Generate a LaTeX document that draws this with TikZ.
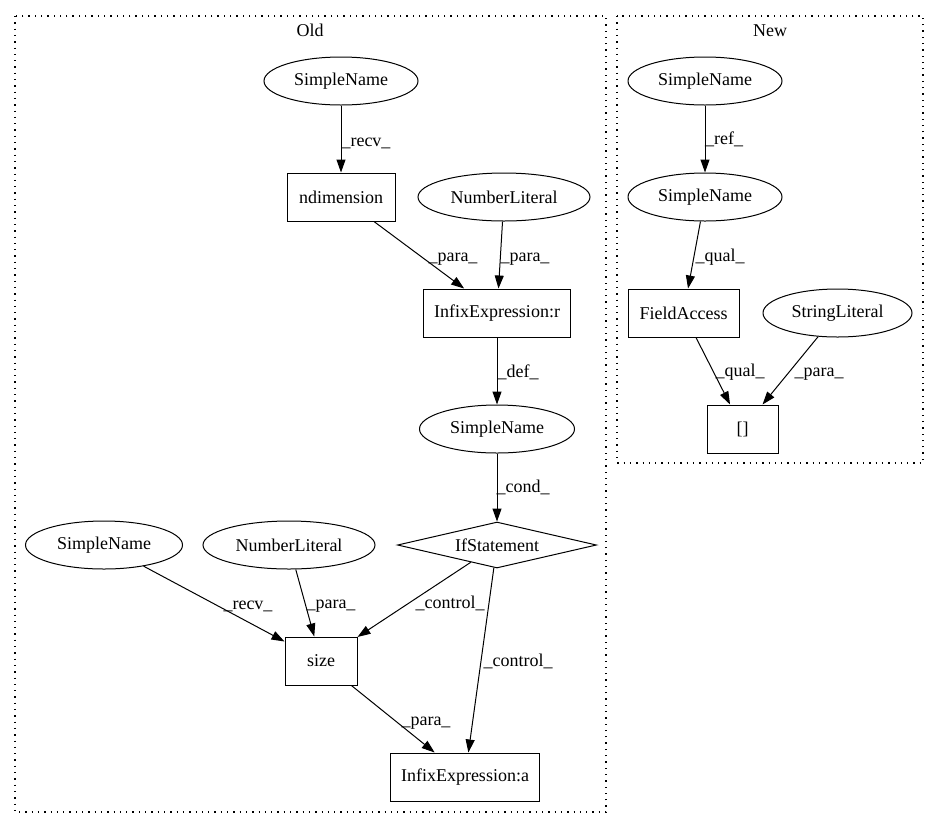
\documentclass[tikz,border=0pt]{standalone}
\usepackage{fontspec}
\setmainfont{Liberation Serif}
\usetikzlibrary{shapes.geometric,arrows.meta}
\begin{document}
\begin{tikzpicture}[x=1pt,y=-1pt,
  every node/.style={font=\fontsize{18}{21}\selectfont},
  ell/.style={draw, ellipse, inner sep=0pt, line width=1pt, minimum height=48pt},
  box/.style={draw, rectangle, inner sep=0pt, line width=1pt, minimum height=48pt},
  dia/.style={draw, diamond, aspect=4.3, inner sep=0pt, line width=1pt, minimum width=199pt, minimum height=46pt},
  arr/.style={-{Triangle[length=13pt,width=9pt]}, line width=1pt},
  lbl/.style={anchor=base, inner sep=0pt},
  clus/.style={draw, line width=1.2pt, dash pattern=on 1.3pt off 5pt},
  ttl/.style={anchor=base, inner sep=0pt}
]
\useasboundingbox (0,0) rectangle (939,828);
\fill[white] (0,0) rectangle (939,828);

% clusters
\draw[clus] (15,16) rectangle (606,812);
\draw[clus] (617,16) rectangle (923,463);
\node[ttl] (tOld) at (310,36) {Old};
\node[ttl] (tNew) at (770,36) {New};

% Old nodes
\node[ell, minimum width=154pt] (osn1) at (341,81) {SimpleName};
\node[box, minimum width=108pt] (ondim) at (341,197) {ndimension};
\node[ell, minimum width=172pt] (onl1) at (504,197) {NumberLiteral};
\node[box, minimum width=147pt] (oinfr) at (497,313) {InfixExpression:r};
\node[ell, minimum width=155pt] (osn2) at (497,429) {SimpleName};
\node[dia] (oif) at (497,545) {IfStatement};
\node[ell, minimum width=157pt] (osn3) at (104,545) {SimpleName};
\node[ell, minimum width=172pt] (onl2) at (289,545) {NumberLiteral};
\node[box, minimum width=72pt] (osize) at (321,661) {size};
\node[box, minimum width=149pt] (oinfa) at (465,777) {InfixExpression:a};

% New nodes
\node[ell, minimum width=154pt] (nsn1) at (705,81) {SimpleName};
\node[ell, minimum width=154pt] (nsn2) at (705,197) {SimpleName};
\node[box, minimum width=111pt] (nfa) at (683.5,313) {FieldAccess};
\node[ell, minimum width=149pt] (nsl) at (837.5,313) {StringLiteral};
\node[box, minimum width=71pt] (nbr) at (742.5,429) {[]};

% Old edges
\draw[arr] (osn1) -- (ondim) node[lbl] at (366,146) {\_recv\_};
\draw[arr] (ondim) -- (oinfr) node[lbl] at (453,261) {\_para\_};
\draw[arr] (onl1) -- (oinfr) node[lbl] at (525,261) {\_para\_};
\draw[arr] (oinfr) -- (osn2) node[lbl] at (518,377) {\_def\_};
\draw[arr] (osn2) -- (oif) node[lbl] at (523,492) {\_cond\_};
\draw[arr] (osn3) -- (osize) node[lbl] at (248,609) {\_recv\_};
\draw[arr] (onl2) -- (osize) node[lbl] at (331,608) {\_para\_};
\draw[arr] (oif) -- (osize) node[lbl] at (450,608) {\_control\_};
\draw[arr] (oif) -- (oinfa) node[lbl] at (518,666) {\_control\_};
\draw[arr] (osize) -- (oinfa) node[lbl] at (426,725) {\_para\_};

% New edges
\draw[arr] (nsn1) -- (nsn2) node[lbl] at (724,144) {\_ref\_};
\draw[arr] (nsn2) -- (nfa) node[lbl] at (720,261) {\_qual\_};
\draw[arr] (nfa) -- (nbr) node[lbl] at (740,376) {\_qual\_};
\draw[arr] (nsl) -- (nbr) node[lbl] at (819,376) {\_para\_};
\end{tikzpicture}
\end{document}
